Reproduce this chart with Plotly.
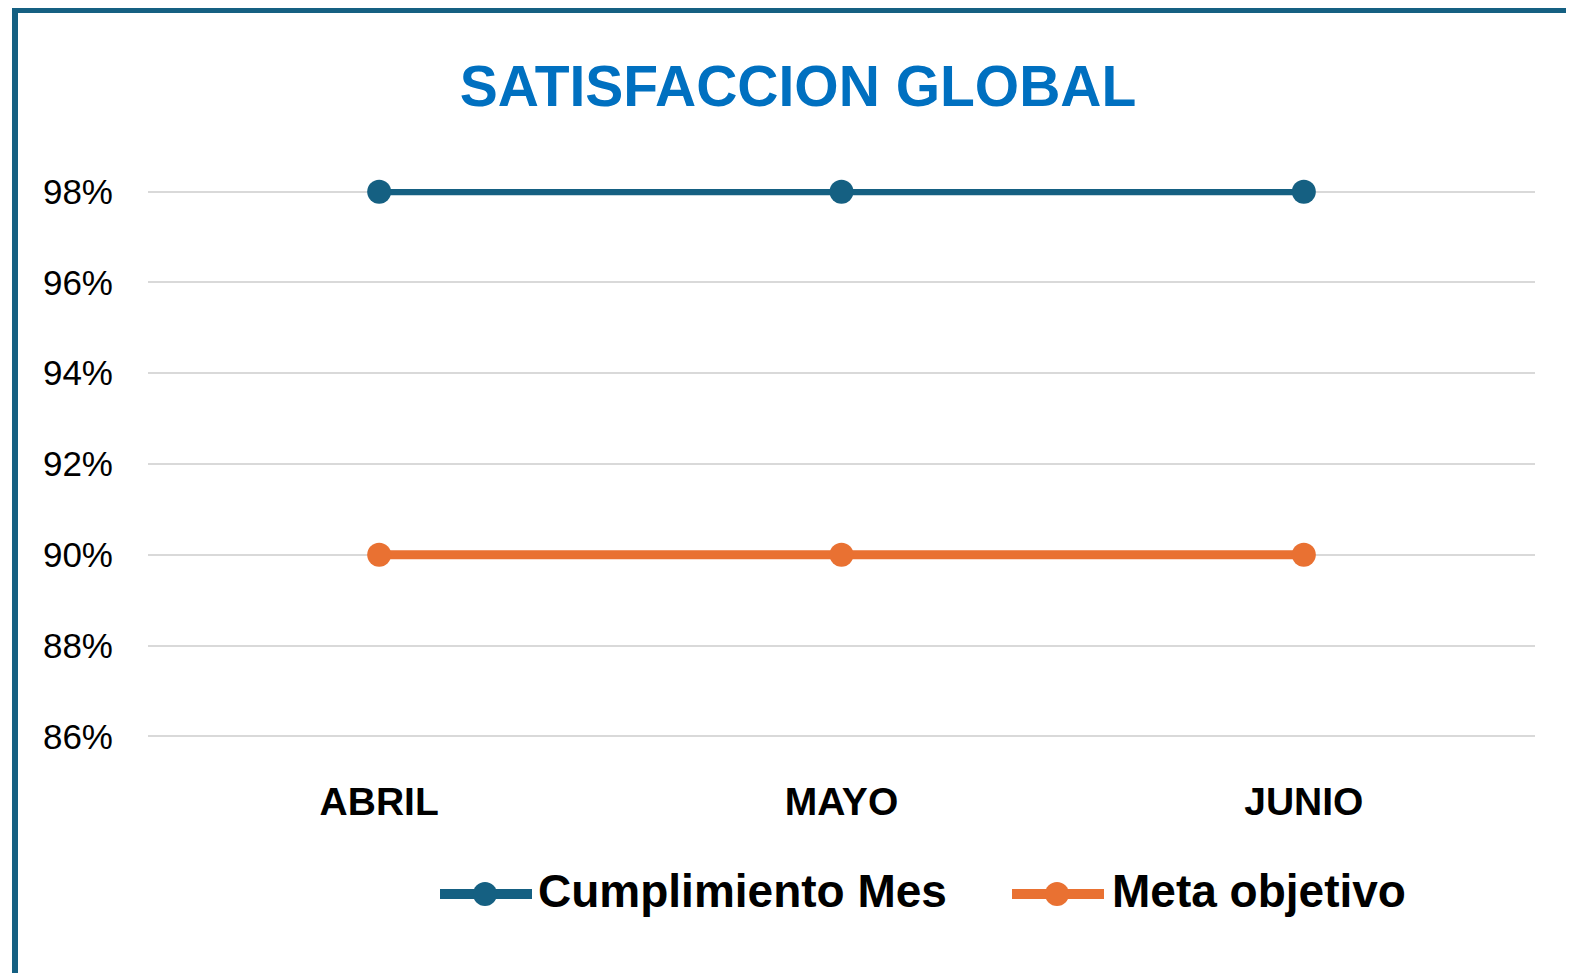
import plotly.graph_objects as go

# Data
meses = ['ABRIL', 'MAYO', 'JUNIO']
series = ['Cumplimiento Mes', 'Meta objetivo']
cumplimiento = [0.98, 0.98, 0.98]
meta = [0.90, 0.90, 0.90]
y_ticks = [0.86, 0.88, 0.90, 0.92, 0.94, 0.96, 0.98]

azul = '#156082'
naranja = '#E97132'

W, H = 1574, 973
OFF = 8  # page body margin
L, R, T, B = 140, 47, 181, 242
pw, ph = W - L - R, H - T - B


# page pixel -> paper helpers for frame / legend decoration
def px(x):
    return (x - OFF - L) / pw


def py(y):
    return (H - B - (y - OFF)) / ph


fig = go.Figure()

fig.add_trace(go.Scatter(
    x=meses, y=cumplimiento, name=series[0], mode='lines+markers',
    line=dict(color=azul, width=7), marker=dict(size=24, color=azul),
    cliponaxis=False, showlegend=False,
))
fig.add_trace(go.Scatter(
    x=meses, y=meta, name=series[1], mode='lines+markers',
    line=dict(color=naranja, width=9), marker=dict(size=24, color=naranja),
    cliponaxis=False, showlegend=False,
))

# frame (only left/top visible in the original)
fig.add_shape(type='rect', xref='paper', yref='paper',
              x0=px(15), x1=px(1640), y0=py(10), y1=py(1040),
              line=dict(color=azul, width=6), fillcolor='rgba(0,0,0,0)', layer='below')

# custom legend
leg = [(series[0], azul, 440, 532, 485, 536),
       (series[1], naranja, 1012, 1104, 1057, 1110)]
ly = 894
for name, col, x0, x1, xm, xt in leg:
    fig.add_shape(type='line', xref='paper', yref='paper',
                  x0=px(x0), x1=px(x1), y0=py(ly), y1=py(ly),
                  line=dict(color=col, width=10))
    fig.add_shape(type='circle', xref='paper', yref='paper',
                  x0=px(xm - 12), x1=px(xm + 12), y0=py(ly - 12), y1=py(ly + 12),
                  line=dict(color=col, width=0), fillcolor=col)
    fig.add_annotation(text=name, xref='paper', yref='paper', x=px(xt), y=py(891),
                       xanchor='left', yanchor='middle', showarrow=False,
                       font=dict(family='Liberation Sans', size=46, color='#000000', weight='bold'))

fig.update_layout(
    width=W, height=H,
    margin=dict(l=L, r=R, t=T, b=B),
    paper_bgcolor='white', plot_bgcolor='white',
    title=dict(text='<b>SATISFACCION GLOBAL</b>', x=(798 - OFF) / W, xanchor='center',
               y=1 - (86 - OFF) / H, yanchor='middle',
               font=dict(family='Liberation Sans', size=57, color='#0070C0')),
    showlegend=False,
)
fig.update_xaxes(range=[-0.5, 2.5], showgrid=False, showline=False, zeroline=False, ticks='',
                 tickfont=dict(family='Liberation Sans', size=39, color='#000000', weight='bold'),
                 ticklabelstandoff=36)
fig.update_yaxes(range=[0.8594, 0.9806], tickvals=y_ticks, tickformat='.0%',
                 showgrid=True, gridcolor='#D9D9D9', gridwidth=2, zeroline=False, showline=False,
                 ticks='', tickfont=dict(family='Liberation Sans', size=35, color='#000000'),
                 ticklabelstandoff=34)

fig.write_html('out.html')
